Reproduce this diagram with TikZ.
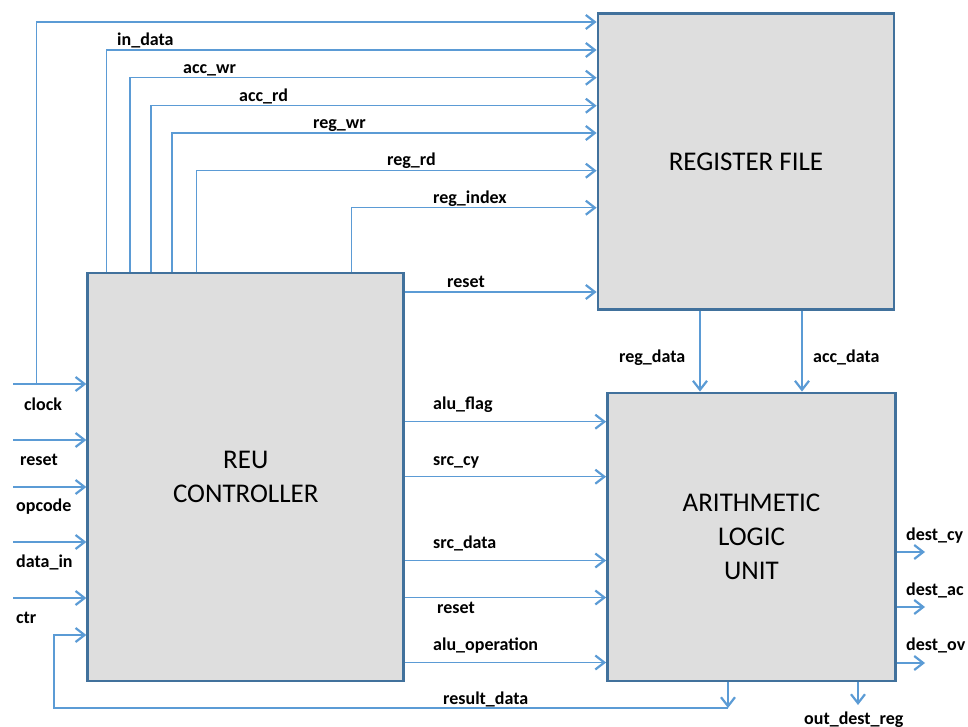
\documentclass[tikz,border=0pt]{standalone}
\usepackage{fontspec}
\setmainfont{Carlito}
\usetikzlibrary{arrows.meta}
\definecolor{sigblue}{RGB}{91,155,213}
\definecolor{boxblue}{RGB}{65,113,156}
\definecolor{boxfill}{RGB}{222,222,222}
\begin{document}
\begin{tikzpicture}[x=1pt,y=-1pt,
  blk/.style={draw=boxblue,fill=boxfill,line width=2.8pt,inner sep=0pt,align=center,font=\fontsize{27}{34}\selectfont},
  sig/.style={draw=sigblue,line width=1.3pt},
  arr/.style={sig,-{Straight Barb[length=9pt,width=14pt,line width=2.2pt]}},
  lbl/.style={font=\bfseries\fontsize{18}{20}\selectfont,anchor=base west,inner sep=0pt}]
\useasboundingbox (0,0) rectangle (968,727);
% blocks
\node[blk,minimum width=316pt,minimum height=408pt] (reu) at (245.75,477) {REU\\CONTROLLER};
\node[blk,minimum width=296pt,minimum height=296pt] (reg) at (746,161.5) {REGISTER FILE};
\node[blk,minimum width=288pt,minimum height=288pt] (alu) at (751.5,537) {ARITHMETIC\\LOGIC\\UNIT};
% free ends
\coordinate (clkin) at (13,384);
\coordinate (clkj) at (36.7,384);
\coordinate (rstin) at (13,440);
\coordinate (opin) at (13,487);
\coordinate (datin) at (13,542);
\coordinate (ctrin) at (13,598);
\coordinate (dcy) at (925,552);
\coordinate (dac) at (925,607);
\coordinate (dov) at (925,663);
\coordinate (odr) at (858,705);
\coordinate (rd) at (728,708);
% inputs of controller
\draw[arr] (clkin) -- (reu.west |- clkin);
\draw[arr] (rstin) -- (reu.west |- rstin);
\draw[arr] (opin) -- (reu.west |- opin);
\draw[arr] (datin) -- (reu.west |- datin);
\draw[arr] (ctrin) -- (reu.west |- ctrin);
% clock to register file
\draw[arr] (clkj) |- (reg.west |- 0,22);
% controller to register file (top)
\draw[arr] (reu.north -| 106.7,0) |- (reg.west |- 0,50);
\draw[arr] (reu.north -| 130,0) |- (reg.west |- 0,77.7);
\draw[arr] (reu.north -| 151,0) |- (reg.west |- 0,105.7);
\draw[arr] (reu.north -| 172,0) |- (reg.west |- 0,133);
\draw[arr] (reu.north -| 196.7,0) |- (reg.west |- 0,170.7);
\draw[arr] (reu.north -| 351.7,0) |- (reg.west |- 0,207.7);
\draw[arr] (reu.east |- 0,292) -- (reg.west |- 0,292);
% register file to alu
\draw[arr] (reg.south -| 700,0) -- (alu.north -| 700,0);
\draw[arr] (reg.south -| 802,0) -- (alu.north -| 802,0);
% controller to alu
\draw[arr] (reu.east |- 0,421.7) -- (alu.west |- 0,421.7);
\draw[arr] (reu.east |- 0,476.7) -- (alu.west |- 0,476.7);
\draw[arr] (reu.east |- 0,560.5) -- (alu.west |- 0,560.5);
\draw[arr] (reu.east |- 0,597.5) -- (alu.west |- 0,597.5);
\draw[arr] (reu.east |- 0,662.5) -- (alu.west |- 0,662.5);
% alu outputs
\draw[arr] (alu.east |- dcy) -- (dcy);
\draw[arr] (alu.east |- dac) -- (dac);
\draw[arr] (alu.east |- dov) -- (dov);
\draw[arr] (alu.south -| odr) -- (odr);
\draw[arr] (alu.south -| rd) -- (rd);
\draw[arr] (rd) -- (54,708) |- (reu.west |- 0,635);
% labels
\node[lbl] (l1) at (117,46) {in\_data};
\node[lbl] (l2) at (183,74) {acc\_wr};
\node[lbl] (l3) at (239,101.5) {acc\_rd};
\node[lbl] (l4) at (313,129) {reg\_wr};
\node[lbl] (l5) at (387,166) {reg\_rd};
\node[lbl] (l6) at (433,204) {reg\_index};
\node[lbl] (l7) at (447,287) {reset};
\node[lbl] (l8) at (619,362) {reg\_data};
\node[lbl] (l9) at (813,362) {acc\_data};
\node[lbl] (l10) at (433,409) {alu\_flag};
\node[lbl] (l11) at (433,465) {src\_cy};
\node[lbl] (l12) at (433,548) {src\_data};
\node[lbl] (l13) at (437,613) {reset};
\node[lbl] (l14) at (433,650) {alu\_operation};
\node[lbl] (l15) at (443,704) {result\_data};
\node[lbl] (l16) at (804,724) {out\_dest\_reg};
\node[lbl] (l17) at (906,540) {dest\_cy};
\node[lbl] (l18) at (906,595) {dest\_ac};
\node[lbl] (l19) at (906,650) {dest\_ov};
\node[lbl] (l20) at (24,410) {clock};
\node[lbl] (l21) at (20,465) {reset};
\node[lbl] (l22) at (16,511) {opcode};
\node[lbl] (l23) at (16,567) {data\_in};
\node[lbl] (l24) at (16,623) {ctr};
\end{tikzpicture}
\end{document}
